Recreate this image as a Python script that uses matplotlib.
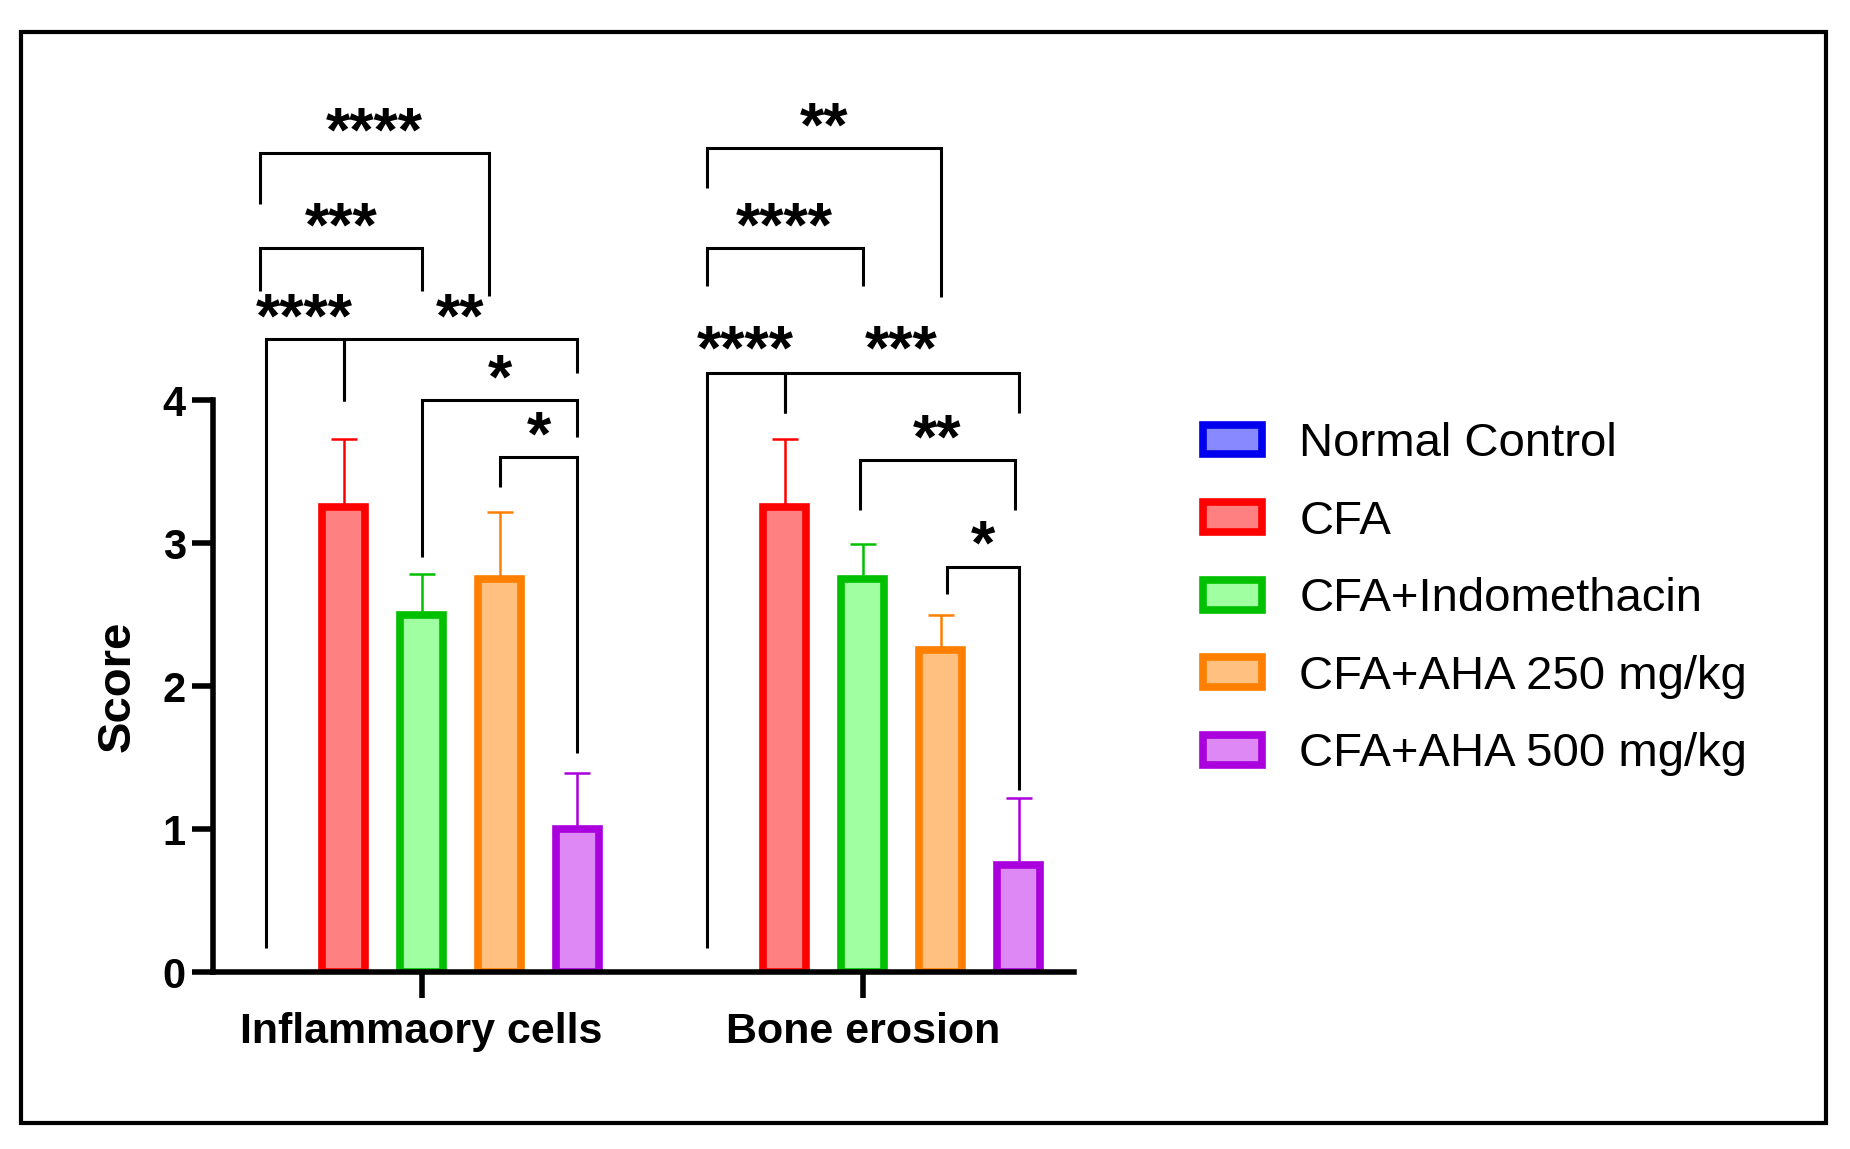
import matplotlib
matplotlib.use('Agg')
import matplotlib.pyplot as plt
from matplotlib.patches import Rectangle, Patch
from matplotlib.transforms import offset_copy
import numpy as np

# ---------------- data ----------------
groups = ['Inflammaory cells', 'Bone erosion']
series = ['Normal Control', 'CFA', 'CFA+Indomethacin',
          'CFA+AHA 250 mg/kg', 'CFA+AHA 500 mg/kg']
inflam_means = [0.0, 3.25, 2.5, 2.75, 1.0]
inflam_errs = [0.0, 0.48, 0.28, 0.47, 0.39]
bone_means = [0.0, 3.25, 2.75, 2.25, 0.75]
bone_errs = [0.0, 0.48, 0.24, 0.25, 0.47]
y_ticks = [0, 1, 2, 3, 4]

# significance brackets: (left series, right series, bar level,
#                         left leg end, right leg end, label, label level)
inflam_brackets = [
    (0, 3, 5.73, 5.37, 4.73, '****', 5.95),
    (0, 2, 5.06, 4.76, 4.76, '***', 5.28),
    (0, 1, 4.43, 0.17, 3.99, '****', 4.65),
    (1, 4, 4.43, 3.99, 4.19, '**', 4.65),
    (2, 4, 4.00, 2.90, 3.74, '*', 4.22),
    (3, 4, 3.60, 3.39, 1.53, '*', 3.82),
]
bone_brackets = [
    (0, 3, 5.76, 5.48, 4.72, '**', 5.98),
    (0, 2, 5.06, 4.80, 4.80, '****', 5.28),
    (0, 1, 4.19, 0.17, 3.91, '****', 4.42),
    (1, 4, 4.19, 3.91, 3.91, '***', 4.42),
    (2, 4, 3.58, 3.23, 3.23, '**', 3.80),
    (3, 4, 2.83, 2.64, 1.27, '*', 3.06),
]
# small horizontal shifts of bracket legs (style)
inflam_leg_shift = [(-0.07, -0.13), (-0.07, 0.0), (0, 0), (0, 0), (0, 0), (0, 0)]
bone_leg_shift = [(0, 0), (0, 0), (0, 0), (0, 0), (-0.04, -0.05), (0.08, 0.0)]

# ---------------- style ----------------
edge_colors = ['#0000EE', '#FF0000', '#00C000', '#FF8000', '#AA00DD']
fill_colors = ['#8888FF', '#FF8080', '#A0FFA0', '#FFC080', '#DD88F5']

plt.rcParams['font.family'] = ['Liberation Sans', 'DejaVu Sans']

fig = plt.figure(figsize=(18.5, 11.49), dpi=100)
ax = fig.add_axes([0.1154, 0.154, 0.4649, 0.7717])

group_starts = [0.0, 5.656]
bar_w = 0.55
edge_lw = 5.5

all_means = [inflam_means, bone_means]
all_errs = [inflam_errs, bone_errs]
all_brackets = [inflam_brackets, bone_brackets]
all_shifts = [inflam_leg_shift, bone_leg_shift]

star_fs = 45
star_tr = offset_copy(ax.transData, fig=fig, x=0, y=-0.2 * star_fs, units='points')

for g, start in enumerate(group_starts):
    pos = start + np.arange(len(series))
    means = np.array(all_means[g])
    errs = np.array(all_errs[g])
    lws = [edge_lw if m > 0 else 0 for m in means]
    ax.bar(pos, means, width=bar_w, color=fill_colors, edgecolor=edge_colors,
           linewidth=lws, zorder=3)
    for k in range(len(series)):
        if means[k] > 0:
            ax.errorbar(pos[k], means[k], yerr=[[0], [errs[k]]], fmt='none',
                        ecolor=edge_colors[k], elinewidth=1.8, capsize=9.5,
                        capthick=1.8, zorder=2)
    for (i, j, h, lb, rb, lab, ly), (dl, dr) in zip(all_brackets[g], all_shifts[g]):
        xl = pos[i] + dl
        xr = pos[j] + dr
        ax.plot([xl, xl, xr, xr], [lb, h, h, rb], color='black', lw=2.2,
                solid_joinstyle='miter', solid_capstyle='butt', clip_on=False, zorder=4)
        ax.text((xl + xr) / 2, ly, lab, transform=star_tr, ha='center', va='center',
                fontsize=star_fs, fontweight='bold', color='black', clip_on=False)

ax.set_xlim(-0.667, 10.36)
ax.set_ylim(0, 6.2)
ax.set_yticks(y_ticks)
ax.set_yticklabels([str(t) for t in y_ticks], fontsize=30, fontweight='bold')
ax.set_xticks([s + 2 for s in group_starts])
ax.set_xticklabels(groups, fontsize=31, fontweight='bold')
ax.tick_params(axis='y', length=15, width=4, pad=5)
ax.tick_params(axis='x', length=19, width=4, pad=10)
for side in ['top', 'right']:
    ax.spines[side].set_visible(False)
ax.spines['left'].set_linewidth(4)
ax.spines['bottom'].set_linewidth(4)
ax.spines['left'].set_bounds(0, 4)
ax.spines['left'].set_zorder(5)
ax.spines['bottom'].set_zorder(5)
ax.set_ylabel('Score', fontsize=34, fontweight='bold')
ax.yaxis.set_label_coords(-0.086, 2.0 / 6.2)

handles = [Patch(facecolor=fc, edgecolor=ec, linewidth=edge_lw)
           for fc, ec in zip(fill_colors, edge_colors)]
fig.legend(handles, series, loc='center left', bbox_to_anchor=(0.650, 0.4785),
           frameon=False, fontsize=34, handlelength=1.25, handleheight=0.6,
           labelspacing=0.71, handletextpad=0.8, borderpad=0, borderaxespad=0)

fig.add_artist(Rectangle((0.01135, 0.0226), 0.9757, 0.9495, transform=fig.transFigure,
                         fill=False, edgecolor='black', linewidth=3))

fig.savefig('out.png', dpi=100, facecolor='white')
